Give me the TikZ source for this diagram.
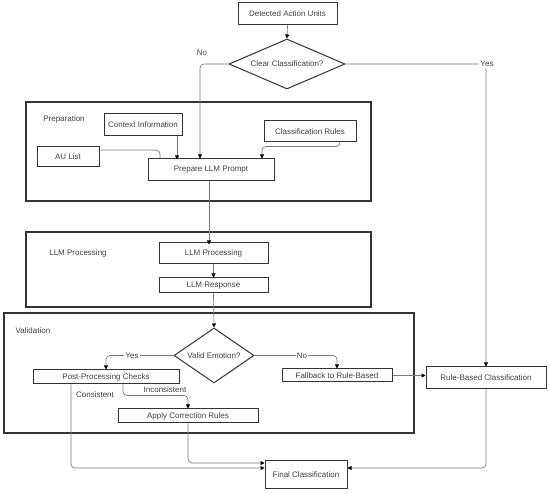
\documentclass[tikz,border=0pt]{standalone}
\usepackage{fontspec}
\setmainfont{Liberation Sans}
\usetikzlibrary{shapes.geometric,arrows.meta}
\definecolor{boxc}{HTML}{333333}
\definecolor{linec}{HTML}{7A7A7A}
\definecolor{txtc}{HTML}{404040}
\tikzset{
  every node/.style={font=\fontsize{8}{9}\selectfont, text=txtc},
  stepbox/.style={draw=boxc, line width=1pt, rectangle, inner sep=0pt},
  grp/.style={draw=boxc, line width=1.4pt, rectangle, inner sep=0pt},
  dec/.style={draw=boxc, line width=1pt, diamond, inner sep=0pt, aspect=2},
  conn/.style={draw=linec, line width=0.7pt, rounded corners=4pt},
  arr/.style={conn, -{Triangle[length=4pt,width=4pt,fill=black,color=black]}},
  lbl/.style={fill=white, inner sep=1pt},
}
\begin{document}
\begin{tikzpicture}[x=1pt,y=-1pt]
\useasboundingbox (0,0) rectangle (550,494);
% groups
\node[grp, minimum width=345, minimum height=99] (gprep) at (198.5,151.5) {};
\node (lprep) at (64,119) {Preparation};
\node[grp, minimum width=345, minimum height=75] (gllm) at (198.5,269.5) {};
\node (lllm) at (78,253) {LLM Processing};
\node[grp, minimum width=410, minimum height=120] (gval) at (209,373) {};
\node (lval) at (33,331) {Validation};
% nodes
\node[stepbox, minimum width=99, minimum height=22] (dau) at (287.5,14) {Detected Action Units};
\node[dec, minimum width=116, minimum height=50] (clear) at (287,64) {Clear Classification?};
\node[stepbox, minimum width=78, minimum height=22] (ctx) at (143,125) {Context Information};
\node[stepbox, minimum width=92, minimum height=21] (cr) at (310,131.5) {Classification Rules};
\node[stepbox, minimum width=62, minimum height=20] (aul) at (68,157) {AU List};
\node[stepbox, minimum width=126, minimum height=22] (prompt) at (211,170) {Prepare LLM Prompt};
\node[stepbox, minimum width=109, minimum height=21] (llmp) at (213.5,253.5) {LLM Processing};
\node[stepbox, minimum width=109, minimum height=15] (llmr) at (213.5,285.5) {LLM Response};
\node[dec, minimum width=80, minimum height=55] (valid) at (214,355.5) {Valid Emotion?};
\node[stepbox, minimum width=146, minimum height=14] (post) at (106,377) {Post-Processing Checks};
\node[stepbox, minimum width=110, minimum height=13] (fall) at (337,375.5) {Fallback to Rule-Based};
\node[stepbox, minimum width=140, minimum height=14] (apply) at (188,416) {Apply Correction Rules};
\node[stepbox, minimum width=120, minimum height=22] (rule) at (486,378) {Rule-Based Classification};
\node[stepbox, minimum width=82, minimum height=28] (final) at (306,475) {Final Classification};
% connectors
\draw[arr] (dau.south) -- (clear.north);
\draw[arr] (clear.west) -| ([xshift=-11pt]prompt.north);
\node (lno1) at (202,53) {No};
\draw[arr] (clear.east) -| (rule.north);
\node[lbl] (lyes1) at (487,64) {Yes};
\draw[arr] ([xshift=34pt]ctx.south) -- ++(0,23);
\draw[conn] ([yshift=7pt]aul.east) -| ([xshift=-51pt]prompt.north);
\draw[arr] ([xshift=30pt]cr.south) -- ++(0,4) -| ([xshift=51pt]prompt.north);
\draw[arr] ([xshift=-2pt]prompt.south) -- ++(0,63);
\draw[arr] (llmp.south) -- (llmr.north);
\draw[arr] (llmr.south) -- (valid.north);
\draw[arr] (valid.west) -| (post.north);
\node[lbl] (lyes2) at (132,355.5) {Yes};
\draw[arr] (valid.east) -| (fall.north);
\node[lbl] (lno2) at (302,355.5) {No};
\draw[arr] (fall.east) -- (fall.east -| rule.west);
\draw[arr] ([xshift=17pt]post.south) -- ++(0,11) -| (apply.north);
\node (linc) at (165,390) {Inconsistent};
\node (lcons) at (95,395) {Consistent};
\draw[arr] ([xshift=-35pt]post.south) |- ([yshift=7pt]final.west);
\draw[arr] (apply.south) |- ([yshift=12pt]final.west);
\draw[arr] (rule.south) |- ([yshift=7pt]final.east);
\end{tikzpicture}
\end{document}
